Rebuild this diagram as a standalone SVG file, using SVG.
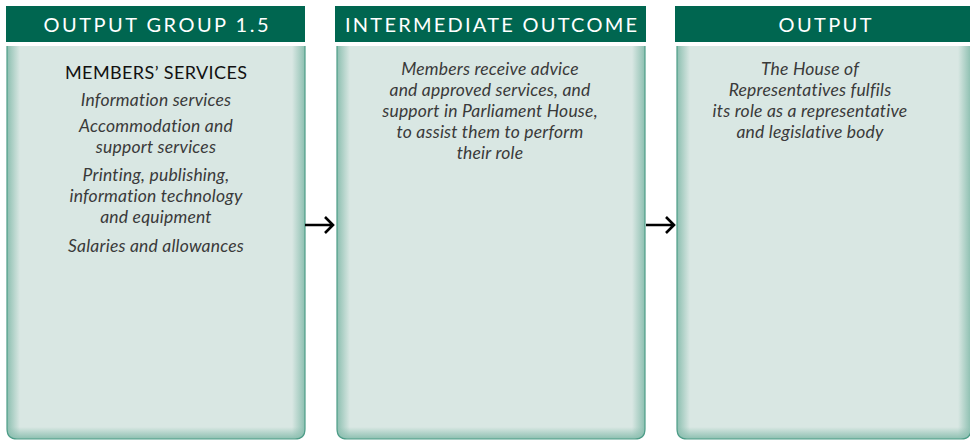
<svg xmlns="http://www.w3.org/2000/svg" width="970" height="440" viewBox="0 0 970 440">
<defs>
<style>
.hdr{fill:#006650}
.body{fill:#d9e7e3}
.edge{fill:none;stroke:#4e9d88;stroke-width:1.2}
.ht{font-family:Lato,"Open Sans","Liberation Sans",sans-serif;font-size:20px;fill:#ffffff;text-anchor:middle}
.tt{font-family:Lato,"Open Sans","Liberation Sans",sans-serif;font-size:18px;fill:#111111;text-anchor:middle}
.it{font-family:Lato,"Open Sans","Liberation Sans",sans-serif;font-size:17.5px;font-style:italic;fill:#3a3a3a;text-anchor:middle;letter-spacing:0.2px}
.arr{fill:none;stroke:#000;stroke-width:2.6}
</style>
<linearGradient id="gl" x1="0" y1="0" x2="1" y2="0">
<stop offset="0" stop-color="#8cbfb0" stop-opacity="1"/>
<stop offset="1" stop-color="#8cbfb0" stop-opacity="0"/>
</linearGradient>
<linearGradient id="gr" x1="1" y1="0" x2="0" y2="0">
<stop offset="0" stop-color="#8cbfb0" stop-opacity="1"/>
<stop offset="1" stop-color="#8cbfb0" stop-opacity="0"/>
</linearGradient>
<linearGradient id="gb" x1="0" y1="1" x2="0" y2="0">
<stop offset="0" stop-color="#8cbfb0" stop-opacity="1"/>
<stop offset="1" stop-color="#8cbfb0" stop-opacity="0"/>
</linearGradient>
<clipPath id="c1"><path d="M7,46 H305 V429 Q305,439 295,439 H17 Q7,439 7,429 Z"/></clipPath>
<clipPath id="c2"><path d="M337,46 H645 V429 Q645,439 635,439 H347 Q337,439 337,429 Z"/></clipPath>
<clipPath id="c3"><path d="M677,46 H971 V429 Q971,439 961,439 H687 Q677,439 677,429 Z"/></clipPath>
</defs>
<rect width="970" height="440" fill="#ffffff"/>

<g id="node-output-group">
<rect class="hdr" x="6" y="6" width="299" height="36"/>
<text class="ht" x="156" y="32" textLength="225" lengthAdjust="spacing">OUTPUT GROUP 1.5</text>
<path class="body" d="M7,46 H305 V429 Q305,439 295,439 H17 Q7,439 7,429 Z"/>
<g clip-path="url(#c1)">
<rect x="7" y="46" width="13" height="394" fill="url(#gl)"/>
<rect x="292" y="46" width="13" height="394" fill="url(#gr)"/>
<rect x="7" y="427" width="298" height="12" fill="url(#gb)"/>
</g>
<path class="edge" d="M7,46 V429 Q7,439 17,439 H295 Q305,439 305,429 V46"/>
<text class="tt" x="156" y="79" textLength="182" lengthAdjust="spacing">MEMBERS’ SERVICES</text>
<text class="it" x="156" y="106">Information services</text>
<text class="it" x="156" y="132">Accommodation and</text>
<text class="it" x="156" y="153">support services</text>
<text class="it" x="156" y="181">Printing, publishing,</text>
<text class="it" x="156" y="202">information technology</text>
<text class="it" x="156" y="223">and equipment</text>
<text class="it" x="156" y="252">Salaries and allowances</text>
</g>

<g id="node-intermediate-outcome">
<rect class="hdr" x="335" y="6" width="311" height="36"/>
<text class="ht" x="491" y="32" textLength="292" lengthAdjust="spacing">INTERMEDIATE OUTCOME</text>
<path class="body" d="M337,46 H645 V429 Q645,439 635,439 H347 Q337,439 337,429 Z"/>
<g clip-path="url(#c2)">
<rect x="337" y="46" width="13" height="394" fill="url(#gl)"/>
<rect x="632" y="46" width="13" height="394" fill="url(#gr)"/>
<rect x="337" y="427" width="308" height="12" fill="url(#gb)"/>
</g>
<path class="edge" d="M337,46 V429 Q337,439 347,439 H635 Q645,439 645,429 V46"/>
<text class="it" x="490" y="75">Members receive advice</text>
<text class="it" x="490" y="96">and approved services, and</text>
<text class="it" x="490" y="117">support in Parliament House,</text>
<text class="it" x="490" y="138">to assist them to perform</text>
<text class="it" x="490" y="159">their role</text>
</g>

<g id="node-output">
<rect class="hdr" x="675" y="6" width="300" height="36"/>
<text class="ht" x="825" y="32" textLength="93" lengthAdjust="spacing">OUTPUT</text>
<path class="body" d="M677,46 H971 V429 Q971,439 961,439 H687 Q677,439 677,429 Z"/>
<g clip-path="url(#c3)">
<rect x="677" y="46" width="13" height="394" fill="url(#gl)"/>
<rect x="958" y="46" width="13" height="394" fill="url(#gr)"/>
<rect x="677" y="427" width="294" height="12" fill="url(#gb)"/>
</g>
<path class="edge" d="M677,46 V429 Q677,439 687,439 H961 Q971,439 971,429 V46"/>
<text class="it" x="810" y="75">The House of</text>
<text class="it" x="810" y="96">Representatives fulfils</text>
<text class="it" x="810" y="117">its role as a representative</text>
<text class="it" x="810" y="138">and legislative body</text>
</g>

<g id="connectors">
<path class="arr" d="M305,225 H333 M325,217 L333,225 L325,233"/>
<path class="arr" d="M646,225 H674 M666,217 L674,225 L666,233"/>
</g>
</svg>
